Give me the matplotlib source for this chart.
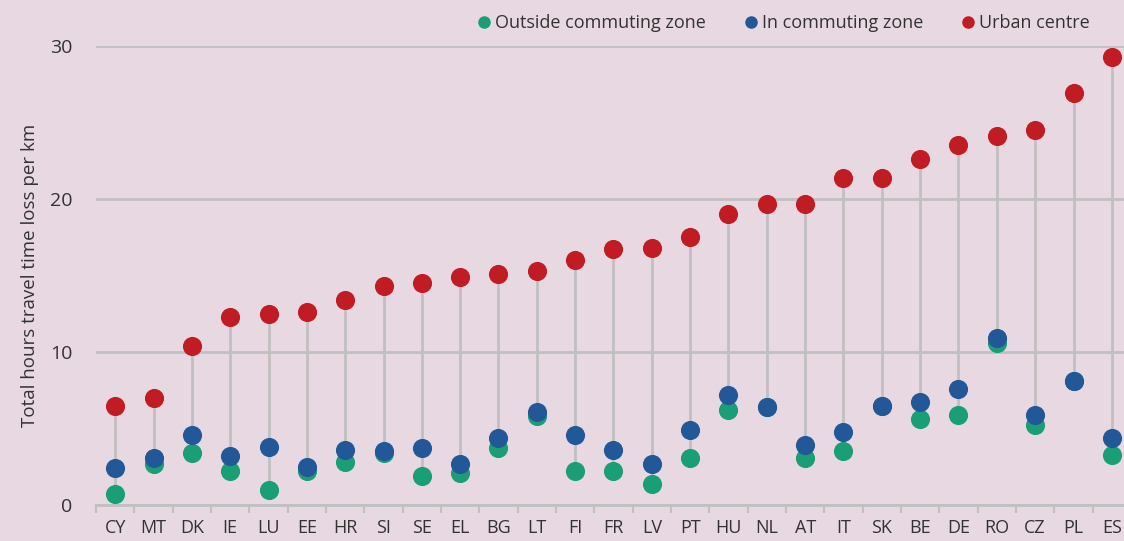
import numpy as np
import matplotlib.pyplot as plt
from matplotlib.lines import Line2D

# hours of travel time lost per km, by country and zone
countries = ["CY", "MT", "DK", "IE", "LU", "EE", "HR", "SI", "SE", "EL", "BG", "LT", "FI", "FR",
             "LV", "PT", "HU", "NL", "AT", "IT", "SK", "BE", "DE", "RO", "CZ", "PL", "ES"]
urban_centre = [6.5, 7.0, 10.4, 12.3, 12.5, 12.6, 13.4, 14.3, 14.5, 14.9, 15.1, 15.3, 16.0, 16.7,
                16.8, 17.5, 19.0, 19.7, 19.7, 21.4, 21.4, 22.6, 23.5, 24.1, 24.5, 26.9, 29.3]
in_commuting = [2.4, 3.1, 4.6, 3.2, 3.8, 2.5, 3.6, 3.5, 3.7, 2.7, 4.4, 6.1, 4.6, 3.6,
                2.7, 4.9, 7.2, 6.4, 3.9, 4.8, 6.5, 6.7, 7.6, 10.9, 5.9, 8.1, 4.4]
outside_commuting = [0.7, 2.7, 3.4, 2.2, 1.0, 2.2, 2.8, 3.4, 1.9, 2.1, 3.7, 5.8, 2.2, 2.2,
                     1.4, 3.1, 6.2, 6.4, 3.1, 3.5, 6.5, 5.6, 5.9, 10.6, 5.2, 8.1, 3.3]

bg = "#e8d8e2"
green, blue, red = "#1a9e76", "#235898", "#c11c23"
grey = "#c0c0c0"
txt = "#333333"

plt.rcParams['font.family'] = ['Open Sans', 'DejaVu Sans']

fig = plt.figure(figsize=(11.24, 5.41), dpi=100, facecolor=bg)
# axes runs slightly past the right edge of the figure
ax = fig.add_axes([96 / 1124, 36 / 541, 1035 / 1124, 459 / 541])
ax.set_facecolor(bg)

x = np.arange(len(countries))
lo = np.minimum.reduce([urban_centre, in_commuting, outside_commuting])
hi = np.maximum.reduce([urban_centre, in_commuting, outside_commuting])
ax.vlines(x, lo, hi, color=grey, lw=2, zorder=2)

ms = 190
ax.scatter(x, outside_commuting, s=ms, color=green, zorder=3, linewidths=0)
ax.scatter(x, in_commuting, s=ms, color=blue, zorder=4, linewidths=0)
ax.scatter(x, urban_centre, s=ms, color=red, zorder=5, linewidths=0)

ax.set_xlim(-0.5, len(countries) - 0.5)
ax.set_ylim(0, 30)
ax.set_yticks([0, 10, 20, 30])
ax.yaxis.grid(True, color=grey, lw=2)
ax.set_axisbelow(True)

ax.set_xticks(x)
ax.set_xticklabels(countries)
ax.set_xticks(np.arange(len(countries) + 1) - 0.5, minor=True)
ax.tick_params(axis='x', which='major', length=0, pad=10, labelsize=13, labelcolor=txt)
ax.tick_params(axis='x', which='minor', length=6, width=1.5, color=grey, direction='out')
ax.tick_params(axis='y', length=0, pad=17, labelsize=14, labelcolor=txt)

for side in ["top", "right", "left"]:
    ax.spines[side].set_visible(False)
ax.spines["bottom"].set_color(grey)
ax.spines["bottom"].set_linewidth(2)

ax.set_ylabel("Total hours travel time loss per km", fontsize=13.5, color=txt, labelpad=8)

handles = [Line2D([], [], marker='o', ls='', color=c, markersize=8) for c in (green, blue, red)]
fig.legend(handles, ["Outside commuting zone", "In commuting zone", "Urban centre"],
           loc='center right', bbox_to_anchor=(1106 / 1124, 1 - 23 / 541), ncol=3,
           frameon=False, fontsize=13, labelcolor=txt, handletextpad=0.1,
           columnspacing=2.0, handlelength=1.0)

fig.savefig("out.png", dpi=100, facecolor=bg)
